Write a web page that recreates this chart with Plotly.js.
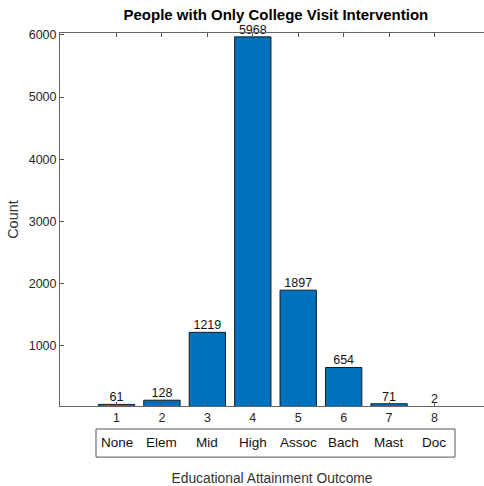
<!DOCTYPE html>
<html>
<head>
<meta charset="utf-8">
<script src="https://cdn.plot.ly/plotly-3.0.1.min.js"></script>
<style>html,body{margin:0;padding:0;background:#fff;}#chart{width:484px;height:486px;}</style>
</head>
<body>
<div id="chart"></div>
<script>
const positions = [1, 2, 3, 4, 5, 6, 7, 8];
const counts = [61, 128, 1219, 5968, 1897, 654, 71, 2];
const categoryNames = ['None', 'Elem', 'Mid', 'High', 'Assoc', 'Bach', 'Mast', 'Doc'];

const FONT = 'Liberation Sans, Arial, sans-serif';
const TXT = '#262626';
const Y_RANGE = [35, 6030];

const bars = {
  type: 'bar',
  x: positions,
  y: counts,
  width: 0.8,
  marker: {color: '#0072BD', line: {color: '#1a1a1a', width: 1}},
  hoverinfo: 'x+y'
};

// value labels sit on top of each bar (clamped to the axis floor when the bar is below it)
const labels = {
  type: 'scatter',
  mode: 'text',
  x: positions,
  y: counts.map(c => Math.max(c, Y_RANGE[0])),
  text: counts.map(String),
  textposition: 'top center',
  textfont: {family: FONT, size: 12.5, color: '#111'},
  cliponaxis: false,
  hoverinfo: 'skip'
};

const annotations = categoryNames.map((name, i) => ({
  x: positions[i], y: -0.099, xref: 'x', yref: 'paper',
  text: name, showarrow: false,
  yanchor: 'middle', xanchor: 'center',
  font: {family: FONT, size: 13.5, color: '#111'}
}));

const layout = {
  width: 484, height: 486,
  margin: {l: 60, r: 0, t: 33, b: 80},
  paper_bgcolor: '#fff', plot_bgcolor: '#fff',
  font: {family: FONT, color: TXT},
  showlegend: false,
  bargap: 0,
  title: {
    text: '<b>People with Only College Visit Intervention</b>',
    font: {family: FONT, size: 15, color: '#000'},
    x: 0.57, xanchor: 'center', y: 0.97, yanchor: 'middle'
  },
  xaxis: {
    range: [-0.244, 9.09],
    tickmode: 'array', tickvals: positions, ticktext: positions.map(String),
    ticks: 'inside', ticklen: 4, tickcolor: '#555', tickwidth: 1,
    showline: true, linecolor: '#666', linewidth: 1, mirror: 'ticks',
    showgrid: false, zeroline: false,
    tickfont: {family: FONT, size: 12.5, color: TXT},
    title: {text: 'Educational Attainment Outcome', standoff: 50, font: {family: FONT, size: 13.8, color: '#333'}}
  },
  yaxis: {
    range: Y_RANGE,
    tickmode: 'array', tickvals: [1000, 2000, 3000, 4000, 5000, 6000],
    ticks: 'inside', ticklen: 4, tickcolor: '#555', tickwidth: 1,
    showline: true, linecolor: '#666', linewidth: 1, mirror: false,
    showgrid: false, zeroline: false,
    tickfont: {family: FONT, size: 12.5, color: TXT},
    title: {text: 'Count', standoff: 6, font: {family: FONT, size: 14.5, color: '#333'}}
  },
  shapes: [{
    type: 'rect', xref: 'paper', yref: 'paper',
    x0: (96 - 60) / 424, x1: (455 - 60) / 424,
    y0: -0.0617, y1: -0.137,
    line: {color: '#555', width: 1}, fillcolor: 'rgba(0,0,0,0)'
  }],
  annotations: annotations
};

Plotly.newPlot('chart', [bars, labels], layout, {displayModeBar: false, staticPlot: true});
</script>
</body>
</html>
